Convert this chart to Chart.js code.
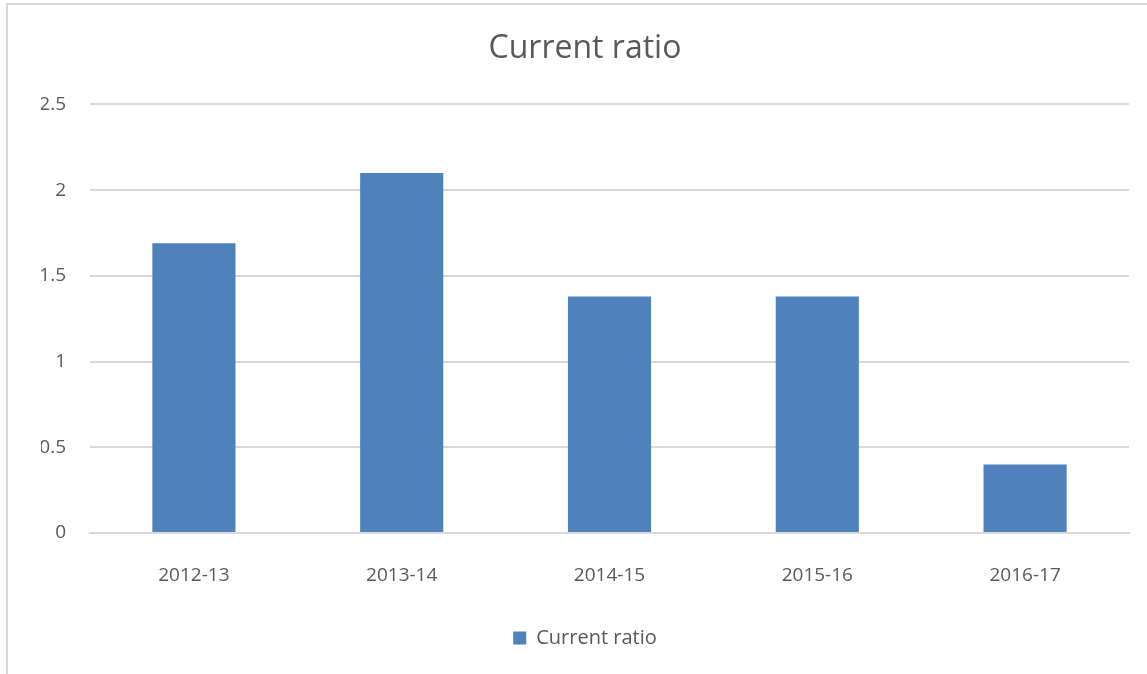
<!DOCTYPE html>
<html>
<head>
<meta charset="utf-8">
<script src="https://cdn.jsdelivr.net/npm/chart.js@4.4.0/dist/chart.umd.min.js"></script>
<style>
    html, body { margin: 0; padding: 0; background: #fff; }
    #wrap {
        position: absolute; left: 6px; top: 3px; width: 1147px; height: 680px;
        border-left: 2px solid #d9d9d9; border-top: 2px solid #d9d9d9;
    }
    #box { position: absolute; left: 0; top: 0; width: 1147px; height: 674px; }
</style>
</head>
<body>
<div id="wrap"></div>
<div id="box"><canvas id="chartRatio"></canvas></div>
<script>
// data
const years = ['2012-13', '2013-14', '2014-15', '2015-16', '2016-17'];
const currentRatio = [1.69, 2.10, 1.38, 1.38, 0.40];
const yTicks = [0, 0.5, 1, 1.5, 2, 2.5];

const grey = '#595959';
const fontFam = '"Open Sans", "Liberation Sans", sans-serif';

const ctx = document.getElementById('chartRatio').getContext('2d');
new Chart(ctx, {
    type: 'bar',
    data: {
        labels: years,
        datasets: [{
            label: 'Current ratio',
            data: currentRatio,
            backgroundColor: '#4f81bd',
            borderWidth: 0,
            barPercentage: 0.8,
            categoryPercentage: 0.5
        }]
    },
    options: {
        responsive: true,
        maintainAspectRatio: false,
        animation: false,
        layout: {
            padding: { left: 41, right: 18, top: 0, bottom: 16 }
        },
        plugins: {
            title: {
                display: true,
                text: 'Current ratio',
                color: grey,
                font: { family: fontFam, size: 32, weight: 'normal' },
                padding: { top: 30, bottom: 36 }
            },
            legend: {
                position: 'bottom',
                labels: {
                    color: grey,
                    font: { family: fontFam, size: 20 },
                    boxWidth: 13,
                    boxHeight: 13,
                    padding: 10
                }
            },
            tooltip: { enabled: false }
        },
        scales: {
            x: {
                grid: { display: false },
                border: { display: true, color: '#d9d9d9', width: 2 },
                ticks: {
                    color: grey,
                    font: { family: fontFam, size: 19 },
                    padding: 23
                },
                afterFit: function(scale) { scale.height = 85; }
            },
            y: {
                min: 0,
                max: 2.5,
                afterBuildTicks: function(scale) {
                    scale.ticks = yTicks.map(v => ({ value: v }));
                },
                grid: { color: '#d9d9d9', lineWidth: 2, drawTicks: false },
                border: { display: false },
                ticks: {
                    color: grey,
                    font: { family: fontFam, size: 19 },
                    padding: 24,
                    callback: function(value) { return String(value); }
                },
                afterFit: function(scale) { scale.width = 49; }
            }
        }
    }
});
</script>
</body>
</html>
